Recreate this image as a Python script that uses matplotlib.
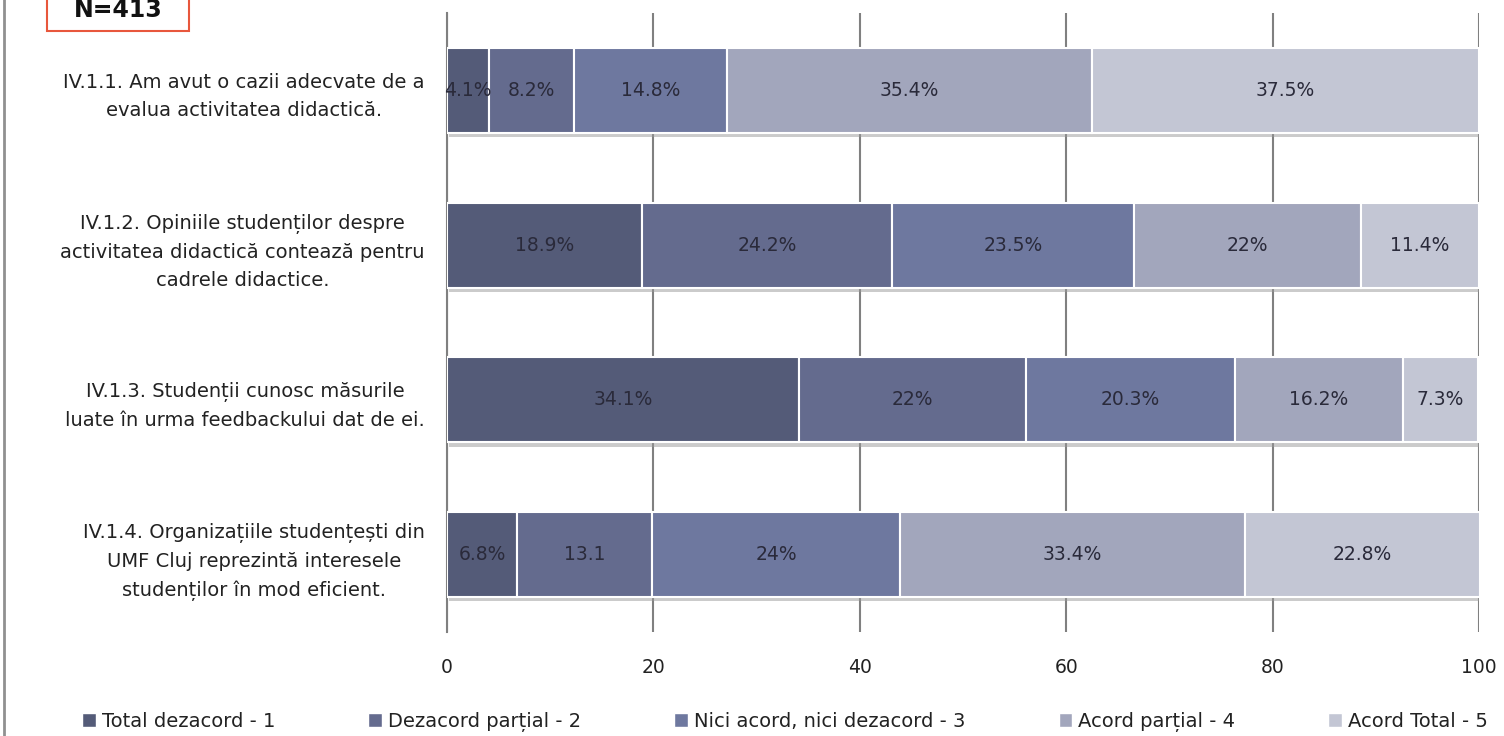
import matplotlib
matplotlib.use("Agg")
import matplotlib.pyplot as plt
import matplotlib.patheffects as pe
from matplotlib.patches import Rectangle
from matplotlib.lines import Line2D
import numpy as np

plt.rcParams['font.family'] = ['DejaVu Sans']

categories = [
    "IV.1.1. Am avut o cazii adecvate de a\nevalua activitatea didactică.",
    "IV.1.2. Opiniile studenților despre\nactivitatea didactică contează pentru\ncadrele didactice.",
    "IV.1.3. Studenții cunosc măsurile\nluate în urma feedbackului dat de ei.",
    "IV.1.4. Organizațiile studențești din\nUMF Cluj reprezintă interesele\nstudenților în mod eficient.",
]
series_names = ["Total dezacord - 1", "Dezacord parțial - 2", "Nici acord, nici dezacord - 3",
                "Acord parțial - 4", "Acord Total - 5"]
total_dezacord = [4.1, 18.9, 34.1, 6.8]
dezacord_partial = [8.2, 24.2, 22.0, 13.1]
nici_acord = [14.8, 23.5, 20.3, 24.0]
acord_partial = [35.4, 22.0, 16.2, 33.4]
acord_total = [37.5, 11.4, 7.3, 22.8]
label_texts = [
    ["4.1%", "18.9%", "34.1%", "6.8%"],
    ["8.2%", "24.2%", "22%", "13.1"],
    ["14.8%", "23.5%", "20.3%", "24%"],
    ["35.4%", "22%", "16.2%", "33.4%"],
    ["37.5%", "11.4%", "7.3%", "22.8%"],
]
x_ticks = [0, 20, 40, 60, 80, 100]

series = [total_dezacord, dezacord_partial, nici_acord, acord_partial, acord_total]
colors = ["#545b78", "#646b8e", "#6e789f", "#a2a6bc", "#c3c6d4"]

fig = plt.figure(figsize=(15.04, 7.36), dpi=100)
ax = fig.add_axes([447/1504, 1-632/736, (1479-447)/1504, (632-13)/736])

y = np.arange(len(categories))
left = np.zeros(len(categories))
shadow = [pe.SimplePatchShadow(offset=(1.5, -3), shadow_rgbFace='#999999', alpha=0.5), pe.Normal()]
for vals, col, name, labs in zip(series, colors, series_names, label_texts):
    bars = ax.barh(y, vals, left=left, height=0.55, color=col, edgecolor='white',
                   linewidth=1.5, label=name, zorder=3)
    for b in bars:
        b.set_path_effects(shadow)
    for yi, l, v, t in zip(y, left, vals, labs):
        ax.text(l + v/2, yi, t, ha='center', va='center', fontsize=13.5,
                color='#2a2a3a', zorder=4)
    left = left + np.array(vals)

ax.set_xlim(0, 100)
ax.set_ylim(len(categories) - 0.5, -0.5)
ax.set_xticks(x_ticks)
ax.set_xticklabels([str(v) for v in x_ticks], fontsize=13.5, color='#222222')
ax.set_yticks(y)
ax.set_yticklabels(categories, fontsize=14, multialignment='center', linespacing=1.6,
                   color='#222222')
ax.tick_params(axis='both', length=0)
ax.tick_params(axis='x', pad=19)
ax.tick_params(axis='y', pad=16)
ax.xaxis.grid(True, color='#808080', linewidth=1.5, zorder=0)
ax.set_axisbelow(True)
for s in ['top', 'right', 'bottom']:
    ax.spines[s].set_visible(False)
ax.spines['left'].set_color('#808080')
ax.spines['left'].set_linewidth(1.5)

handles = [Rectangle((0, 0), 1, 1, facecolor=c, edgecolor='white') for c in colors]
fig.legend(handles, series_names, loc='center', bbox_to_anchor=((85+1485)/2/1504, 1-722/736),
           ncol=5, frameon=False, fontsize=14, handlelength=0.7, handleheight=0.7,
           handletextpad=0.3, columnspacing=4.8, labelcolor='#222222')

# image frame line at the left
fig.add_artist(Line2D([4/1504, 4/1504], [0, 1], transform=fig.transFigure,
                      color='#909090', linewidth=2))
# N=413 box
fig.add_artist(Rectangle((47/1504, 1-31/736), (189-47)/1504, 40/736, transform=fig.transFigure,
                         facecolor='white', edgecolor='#e8573c', linewidth=1.5))
fig.text(118/1504, 1-17/736, "N=413", ha='center', va='baseline', fontsize=17,
         fontweight='bold', color='#111111')

fig.savefig("out.png", dpi=100)
